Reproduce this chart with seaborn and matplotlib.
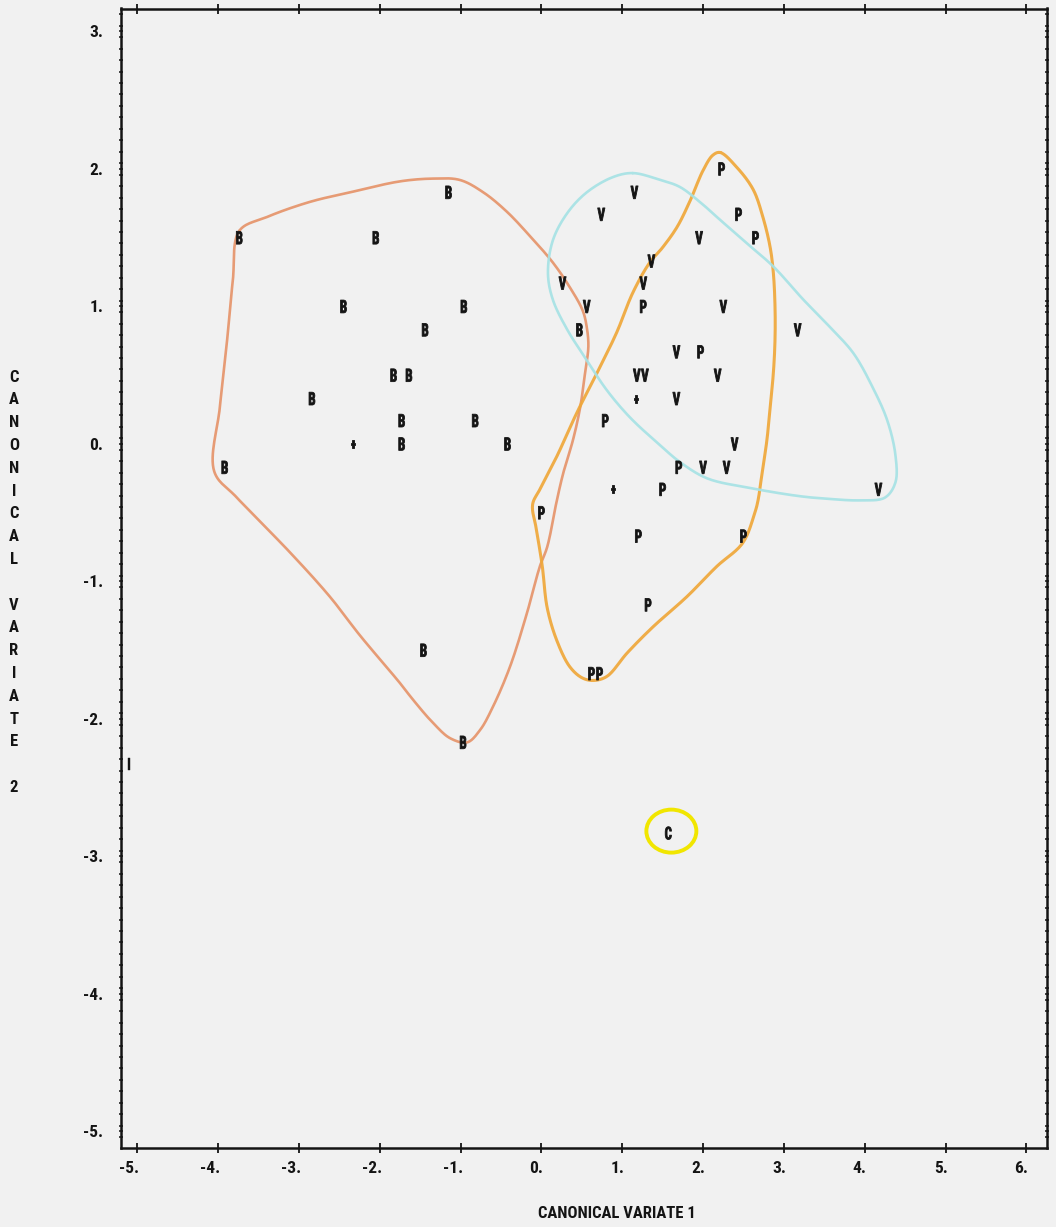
import numpy as np
import pandas as pd
import matplotlib
matplotlib.use("Agg")
import matplotlib.pyplot as plt
import seaborn as sns
from matplotlib.path import Path
from matplotlib.textpath import TextPath
from matplotlib.font_manager import FontProperties, fontManager
from matplotlib.transforms import ScaledTranslation
from matplotlib.patches import Ellipse

# ---- canonical variate scores, one list per group ----
b_cv1 = [-1.15, -3.74, -2.05, -2.45, -0.96, -1.44, -1.83, -1.64, -2.84,
         -1.73, -0.82, -1.73, -0.42, -3.92, 0.47, -1.46, -0.97]
b_cv2 = [1.83, 1.50, 1.50, 1.00, 1.00, 0.83, 0.50, 0.50, 0.33,
         0.17, 0.17, 0.00, 0.00, -0.17, 0.83, -1.50, -2.17]

v_cv1 = [1.15, 0.74, 1.95, 1.36, 0.26, 1.26, 0.56, 2.25, 3.17,
         1.67, 1.18, 1.28, 2.18, 1.67, 2.39, 2.00, 2.29, 4.17]
v_cv2 = [1.83, 1.67, 1.50, 1.33, 1.17, 1.17, 1.00, 1.00, 0.83,
         0.67, 0.50, 0.50, 0.50, 0.33, 0.00, -0.17, -0.17, -0.33]

p_cv1 = [2.23, 2.44, 2.65, 1.26, 1.97, 0.79, 1.70, 1.50, 0.00,
         1.20, 2.50, 1.32, 0.62, 0.72]
p_cv2 = [2.00, 1.67, 1.50, 1.00, 0.67, 0.17, -0.17, -0.33, -0.50,
         -0.67, -0.67, -1.17, -1.67, -1.67]

c_cv1 = [1.57]
c_cv2 = [-2.83]

plus_cv1 = [-2.33, 1.17, 0.89]
plus_cv2 = [0.00, 0.33, -0.33]

off_cv1 = [-5.10]
off_cv2 = [-2.33]

# ---- hand-drawn group envelopes (waypoints in canonical variate units) ----
b_env_cv1 = [-3.74, -3.40, -2.87, -2.37, -1.75, -1.34, -1.01, -0.72, -0.43, -0.14,
             0.14, 0.35, 0.51, 0.56, 0.58, 0.54, 0.48, 0.39, 0.27, 0.19,
             0.07, -0.02, -0.18, -0.39, -0.60, -0.76, -0.92, -1.13, -1.34, -1.59,
             -1.75, -2.25, -2.62, -3.11, -3.77, -4.05, -3.98, -3.89, -3.82]
b_env_cv2 = [1.55, 1.65, 1.76, 1.83, 1.91, 1.93, 1.92, 1.83, 1.69, 1.51,
             1.32, 1.14, 0.97, 0.85, 0.71, 0.52, 0.27, 0.03, -0.21, -0.41,
             -0.75, -0.89, -1.23, -1.62, -1.91, -2.08, -2.17, -2.14, -2.03, -1.86,
             -1.74, -1.39, -1.11, -0.79, -0.39, -0.20, 0.27, 0.76, 1.19]

p_env_cv1 = [2.21, 2.42, 2.62, 2.74, 2.83, 2.87, 2.89, 2.89, 2.87, 2.83,
             2.79, 2.73, 2.68, 2.64, 2.49, 2.17, 1.80, 1.38, 1.06, 0.81,
             0.64, 0.50, 0.35, 0.19, 0.07, 0.01, -0.06, -0.11, -0.02, 0.19,
             0.44, 0.69, 0.93, 1.13, 1.34, 1.50, 1.68, 1.84, 2.00, 2.12]
p_env_cv2 = [2.12, 2.01, 1.85, 1.65, 1.43, 1.24, 1.00, 0.76, 0.52, 0.27,
             0.03, -0.21, -0.41, -0.50, -0.72, -0.89, -1.11, -1.33, -1.52, -1.69,
             -1.72, -1.70, -1.62, -1.43, -1.19, -0.89, -0.63, -0.44, -0.33, -0.09,
             0.23, 0.52, 0.81, 1.10, 1.32, 1.43, 1.58, 1.77, 1.99, 2.10]

v_env_cv1 = [1.13, 1.47, 1.71, 1.96, 2.21, 2.54, 2.87, 3.24, 3.57, 3.86,
             4.10, 4.28, 4.38, 4.38, 4.25, 3.94, 3.57, 3.20, 2.58, 2.05,
             1.71, 1.47, 1.10, 0.81, 0.56, 0.32, 0.14, 0.08, 0.14, 0.32,
             0.56, 0.88]
v_env_cv2 = [1.97, 1.92, 1.87, 1.76, 1.63, 1.46, 1.29, 1.05, 0.85, 0.66,
             0.41, 0.17, -0.08, -0.28, -0.39, -0.41, -0.40, -0.38, -0.32, -0.25,
             -0.13, -0.01, 0.19, 0.39, 0.61, 0.83, 1.05, 1.24, 1.48, 1.68,
             1.83, 1.94]

x_ticks = [-5, -4, -3, -2, -1, 0, 1, 2, 3, 4, 5, 6]
y_ticks = [-5, -4, -3, -2, -1, 0, 1, 2, 3]
x_label = "CANONICAL VARIATE 1"
y_label = "CANONICAL VARIATE 2"

# ---- appearance ----
PAPER = "#f1f1f1"
INK = "#141414"
ENV_STYLE = {"B": ("#e6946a", 1.9), "P": ("#efa73a", 2.2), "V": ("#a6e2e5", 1.9)}
RING = "#f1e600"

names = {f.name for f in fontManager.ttflist}
STRETCH = "normal"
FONT = None
for cand in ["Liberation Sans Narrow", "Arial Narrow", "Roboto Condensed",
             "Open Sans Condensed", "DejaVu Sans Condensed"]:
    if cand in names:
        FONT = cand
        break
if FONT is None:
    FONT = "DejaVu Sans"
    if any(f.name == "DejaVu Sans" and f.stretch == "condensed" for f in fontManager.ttflist):
        STRETCH = "condensed"

sns.set_theme(style="white")
plt.rcParams["font.family"] = [FONT, "DejaVu Sans"]
plt.rcParams["font.weight"] = "bold"
plt.rcParams["font.stretch"] = STRETCH


def glyph_marker(ch, squeeze=0.72):
    """A bold printer-style character turned into a centred marker path."""
    tp = TextPath((0, 0), ch, size=10,
                  prop=FontProperties(family=FONT, weight="bold", stretch=STRETCH))
    ext = tp.get_extents()
    v = tp.vertices.copy()
    v[:, 0] = (v[:, 0] - (ext.x0 + ext.x1) / 2) * squeeze
    v[:, 1] = v[:, 1] - (ext.y0 + ext.y1) / 2
    return Path(v, tp.codes)


def catmull_rom_closed(P, n=16, alpha=0.5):
    m = len(P)
    out = []
    for i in range(m):
        p0, p1, p2, p3 = P[(i - 1) % m], P[i], P[(i + 1) % m], P[(i + 2) % m]
        t0 = 0.0
        t1 = t0 + np.linalg.norm(p1 - p0) ** alpha
        t2 = t1 + np.linalg.norm(p2 - p1) ** alpha
        t3 = t2 + np.linalg.norm(p3 - p2) ** alpha
        t = np.linspace(t1, t2, n, endpoint=False)[:, None]
        A1 = (t1 - t) / (t1 - t0) * p0 + (t - t0) / (t1 - t0) * p1
        A2 = (t2 - t) / (t2 - t1) * p1 + (t - t1) / (t2 - t1) * p2
        A3 = (t3 - t) / (t3 - t2) * p2 + (t - t2) / (t3 - t2) * p3
        B1 = (t2 - t) / (t2 - t0) * A1 + (t - t0) / (t2 - t0) * A2
        B2 = (t3 - t) / (t3 - t1) * A2 + (t - t1) / (t3 - t1) * A3
        out.append((t2 - t) / (t2 - t1) * B1 + (t - t1) / (t2 - t1) * B2)
    out = np.vstack(out)
    return np.vstack([out, out[:1]])


# ---- figure ----
W_PX, H_PX = 1056, 1227
fig = plt.figure(figsize=(W_PX / 100, H_PX / 100), dpi=100, facecolor=PAPER)
left, right, top, bottom = 121, 1047, 8.5, 1148
ax = fig.add_axes([left / W_PX, 1 - bottom / H_PX, (right - left) / W_PX, (bottom - top) / H_PX],
                  facecolor=PAPER)

letters = pd.DataFrame({
    "cv1": b_cv1 + v_cv1 + p_cv1 + c_cv1,
    "cv2": b_cv2 + v_cv2 + p_cv2 + c_cv2,
    "group": ["B"] * len(b_cv1) + ["V"] * len(v_cv1) + ["P"] * len(p_cv1) + ["C"] * len(c_cv1),
})
glyphs = {g: glyph_marker(g) for g in ["B", "V", "P", "C"]}

sns.scatterplot(data=letters, x="cv1", y="cv2", style="group", markers=glyphs,
                color=INK, s=85, linewidth=0.6, edgecolor=INK, legend=False, ax=ax, zorder=4)
sns.scatterplot(x=plus_cv1, y=plus_cv2, marker=glyph_marker("+", 0.75), color=INK,
                s=45, linewidth=0.6, edgecolor=INK, legend=False, ax=ax, zorder=4)
sns.scatterplot(x=off_cv1, y=off_cv2, marker=glyph_marker("I", 1.0), color=INK,
                s=70, linewidth=0.3, edgecolor=INK, legend=False, ax=ax, zorder=4)

xmin = -5.204
xmax = 6.256
ymin = -5.120
ymax = 3.167
ax.set_xlim(xmin, xmax)
ax.set_ylim(ymin, ymax)
ax.set_xlabel("")
ax.set_ylabel("")

# ---- pencilled envelopes around each group ----
to_px = ax.transData
to_data = ax.transData.inverted()
envelopes = {"B": (b_env_cv1, b_env_cv2), "P": (p_env_cv1, p_env_cv2), "V": (v_env_cv1, v_env_cv2)}
for g, (ex, ey) in envelopes.items():
    way_px = to_px.transform(np.column_stack([ex, ey]))
    curve = to_data.transform(catmull_rom_closed(way_px))
    color, lw = ENV_STYLE[g]
    ax.plot(curve[:, 0], curve[:, 1], color=color, lw=lw, alpha=0.92,
            solid_capstyle="round", solid_joinstyle="round", zorder=2)

# ring around the single C observation
px_per_x = (ax.transData.transform((1, 0)) - ax.transData.transform((0, 0)))[0]
px_per_y = (ax.transData.transform((0, 1)) - ax.transData.transform((0, 0)))[1]
for cx, cy in zip(c_cv1, c_cv2):
    ax.add_patch(Ellipse((cx + 3 / px_per_x, cy + 2 / px_per_y), 50 / px_per_x, 43 / px_per_y,
                         fill=False, ec=RING, lw=2.8, zorder=2))

# ---- axes frame and ticks ----
for s in ax.spines.values():
    s.set_visible(True)
    s.set_linewidth(1.8)
    s.set_color(INK)

ax.set_xticks(x_ticks)
ax.set_xticklabels([f"{t}." for t in x_ticks])
ax.set_yticks(y_ticks)
ax.set_yticklabels([f"{t}." for t in y_ticks])
minor_y = np.arange(-5 - 1 / 24, 3.17, 1 / 12)
ax.set_yticks(minor_y, minor=True)

ax.tick_params(axis="x", which="major", direction="inout", length=7, width=1.3,
               top=True, bottom=True, labelsize=12.5, pad=6, colors=INK)
ax.tick_params(axis="y", which="both", direction="inout", length=3.5, width=1.1,
               left=True, right=True, labelsize=12.5, pad=11, colors=INK)
for lbl in ax.get_xticklabels() + ax.get_yticklabels():
    lbl.set_fontweight("bold")
for tick in ax.xaxis.get_major_ticks():
    tick.label1.set_horizontalalignment("right")
    tick.label1.set_transform(tick.label1.get_transform()
                              + ScaledTranslation(1.5 / 72, 0, fig.dpi_scale_trans))

# ---- axis titles (printer style: y title stacked letter by letter) ----
fig.text(617 / W_PX, 1 - 1214 / H_PX, x_label, ha="center", va="center",
         fontsize=12, fontweight="bold", color=INK)
for i, ch in enumerate(y_label):
    if ch == " ":
        continue
    fig.text(14 / W_PX, 1 - (377 + 22.8 * i) / H_PX, ch, ha="center", va="center",
             fontsize=12, fontweight="bold", color=INK)

fig.savefig("out.png", dpi=100, facecolor=PAPER)
